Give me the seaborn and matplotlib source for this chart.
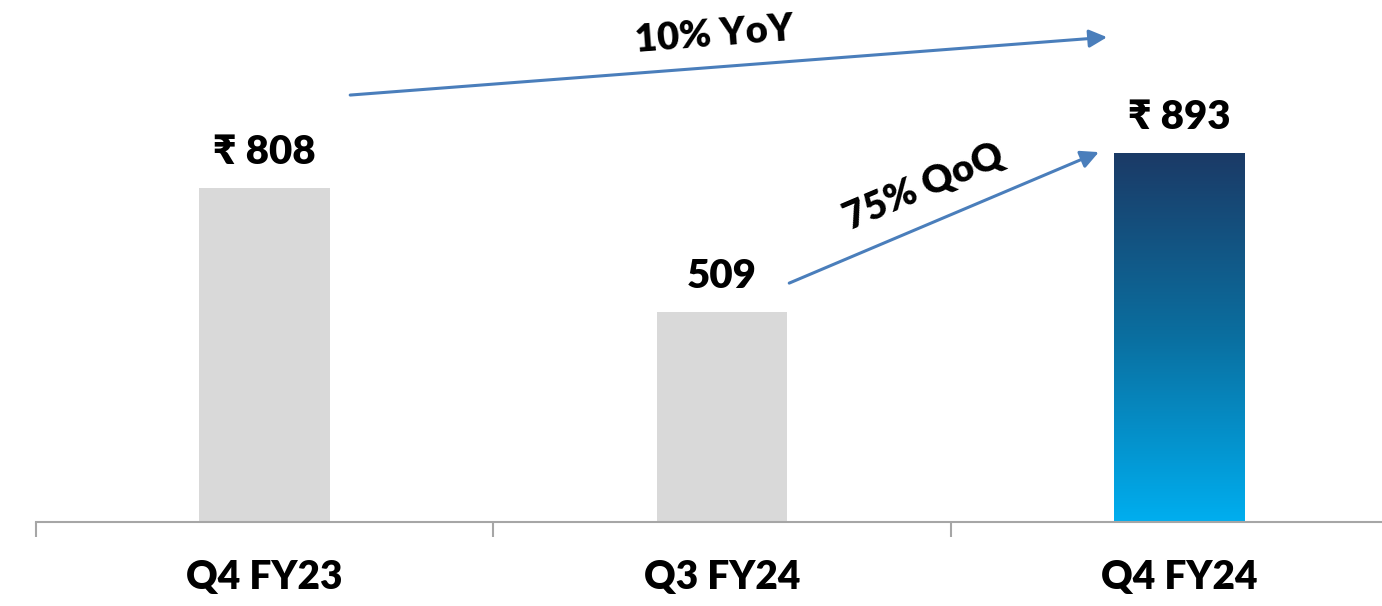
import numpy as np
import pandas as pd
import matplotlib
matplotlib.use("Agg")
import matplotlib.pyplot as plt
from matplotlib.colors import LinearSegmentedColormap
import seaborn as sns

categories = ["Q4 FY23", "Q3 FY24", "Q4 FY24"]
values = [808, 509, 893]
value_labels = ["\u20b9 808", "509", "\u20b9 893"]
yoy_text = "10% YoY"
qoq_text = "75% QoQ"

sns.set_theme(style="white")
plt.rcParams["font.family"] = ["Lato", "DejaVu Sans"]

W, H = 1382, 606
fig = plt.figure(figsize=(W / 100, H / 100), dpi=100)
ax = fig.add_axes([36 / W, (H - 522) / H, (1408 - 36) / W, 522 / H])

df = pd.DataFrame({"cat": categories, "val": values})
sns.barplot(data=df, x="cat", y="val", ax=ax, color="#D9D9D9", width=0.286,
            saturation=1, edgecolor="none")
ax.set_xlim(-0.5, 2.5)
ax.set_ylim(0, 1263)

# gradient on last bar
bar = ax.patches[2]
x0, y0 = bar.get_x(), bar.get_y()
bw, bh = bar.get_width(), bar.get_height()
bar.set_facecolor("none")
cmap = LinearSegmentedColormap.from_list("g", ["#00AEEF", "#0A6FA0", "#1B3A66"])
grad = np.linspace(0, 1, 256).reshape(-1, 1)
im = ax.imshow(grad, extent=[x0, x0 + bw, y0, y0 + bh], origin="lower",
               cmap=cmap, aspect="auto", zorder=2)
im.set_clip_path(bar)
ax.set_xlim(-0.5, 2.5)
ax.set_ylim(0, 1263)

WT = "heavy"
for i, (v, lab) in enumerate(zip(values, value_labels)):
    ax.annotate(lab, xy=(i, v), xytext=(0, 17), textcoords="offset points",
                ha="center", va="baseline", fontsize=29, fontweight=WT,
                color="black")

arrow_color = "#4A7EBB"
ap = dict(arrowstyle="-|>,head_length=0.9,head_width=0.45", color=arrow_color,
          lw=2.2, shrinkA=0, shrinkB=0)
ax.annotate("", xy=(1.842, 1173), xytext=(0.187, 1033), arrowprops=ap)
ax.annotate("", xy=(1.824, 895), xytext=(1.147, 578), arrowprops=ap)
ax.text(0.984, 1178, yoy_text, rotation=4.4, ha="center", va="center",
        fontsize=27.5, fontweight=WT, color="black", rotation_mode="anchor")
ax.text(1.442, 810, qoq_text, rotation=23, ha="center", va="center",
        fontsize=27.5, fontweight=WT, color="black", rotation_mode="anchor")

# axes styling
for s in ["top", "right", "left"]:
    ax.spines[s].set_visible(False)
ax.spines["bottom"].set_color("#A6A6A6")
ax.spines["bottom"].set_linewidth(1.5)
ax.set_yticks([])
ax.set_xlabel("")
ax.set_ylabel("")
ax.set_xticks(range(len(categories)))
ax.set_xticklabels(categories, fontsize=28, fontweight=WT, color="black")
ax.tick_params(axis="x", which="major", length=0, pad=27)
ax.set_xticks([-0.5, 0.5, 1.5, 2.5], minor=True)
ax.tick_params(axis="x", which="minor", length=11, width=1.5, color="#A6A6A6",
               direction="out", bottom=True)

fig.savefig("out.png", dpi=100, facecolor="white")
